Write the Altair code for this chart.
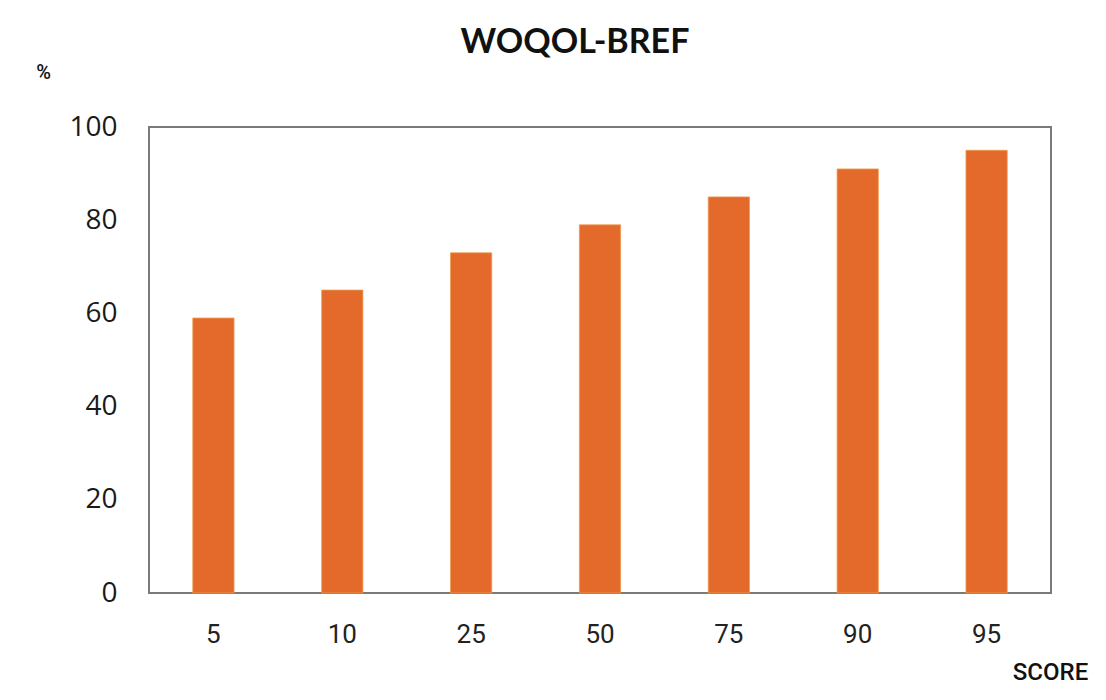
import altair as alt
import pandas as pd

scores = ["5", "10", "25", "50", "75", "90", "95"]
percent = [59, 65, 73, 79, 85, 91, 95]
y_ticks = [0, 20, 40, 60, 80, 100]

df = pd.DataFrame({"score": scores, "pct": percent})

chart = (
    alt.Chart(df)
    .mark_bar(color="#E36A2A", stroke="#EE9A50", strokeWidth=0.8)
    .encode(
        x=alt.X(
            "score:N",
            sort=scores,
            scale=alt.Scale(paddingInner=0.68, paddingOuter=0.34),
            axis=alt.Axis(
                title="SCORE",
                titleX=901,
                titleY=79,
                titleAlign="center",
                titleBaseline="middle",
                titleFont="Roboto",
                titleFontSize=24,
                titleFontWeight=500,
                titleColor="#111111",
                labelAngle=0,
                labelFont="Roboto",
                labelFontSize=26,
                labelColor="#222222",
                labelPadding=28,
                ticks=False,
                domain=False,
            ),
        ),
        y=alt.Y(
            "pct:Q",
            scale=alt.Scale(domain=[0, 100]),
            axis=alt.Axis(
                title="%",
                titleAngle=0,
                titleX=-106,
                titleY=-55,
                titleAlign="center",
                titleBaseline="middle",
                titleFont="Roboto",
                titleFontSize=20,
                titleFontWeight=500,
                titleColor="#111111",
                values=y_ticks,
                labelFont="Open Sans",
                labelFontSize=28,
                labelColor="#1a1a1a",
                labelPadding=32,
                ticks=False,
                domain=False,
                grid=False,
            ),
        ),
    )
    .properties(
        width=902,
        height=466,
        autosize=alt.AutoSizeParams(type="none"),
        padding={"left": 141, "top": 119, "right": 44, "bottom": 98},
        title=alt.TitleParams(
            "WOQOL-BREF",
            font="Lato",
            fontSize=34,
            fontWeight="bold",
            color="#111111",
            anchor="middle",
            dx=-25,
            offset=2,
        ),
    )
    .configure(background="white")
    .configure_view(stroke="#7a7a7a", strokeWidth=2)
)

chart.save("out.html", embed_options={"renderer": "svg", "actions": False})
